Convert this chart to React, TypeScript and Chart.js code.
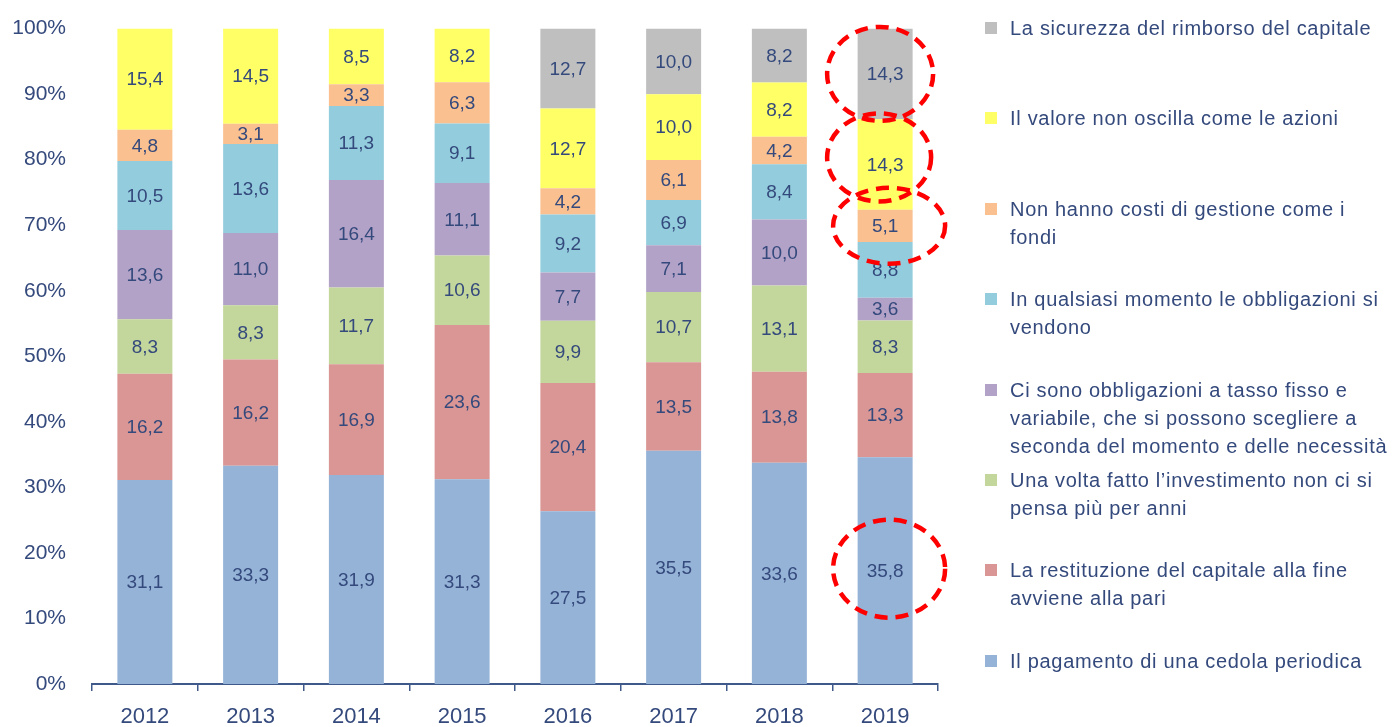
import React, { useEffect, useRef } from "react";
import { Chart, registerables } from "chart.js";

Chart.register(...registerables);

// ---------- DATA ----------
const years = ["2012", "2013", "2014", "2015", "2016", "2017", "2018", "2019"];

const cedola = [31.1, 33.3, 31.9, 31.3, 27.5, 35.5, 33.6, 35.8];
const restituzione = [16.2, 16.2, 16.9, 23.6, 20.4, 13.5, 13.8, 13.3];
const unaVolta = [8.3, 8.3, 11.7, 10.6, 9.9, 10.7, 13.1, 8.3];
const ciSono = [13.6, 11.0, 16.4, 11.1, 7.7, 7.1, 10.0, 3.6];
const qualsiasi = [10.5, 13.6, 11.3, 9.1, 9.2, 6.9, 8.4, 8.8];
const nonHanno = [4.8, 3.1, 3.3, 6.3, 4.2, 6.1, 4.2, 5.1];
const valore = [15.4, 14.5, 8.5, 8.2, 12.7, 10.0, 8.2, 14.3];
const sicurezza = [null, null, null, null, 12.7, 10.0, 8.2, 14.3];

const seriesNames = [
  "Il pagamento di una cedola periodica",
  "La restituzione del capitale alla fine\navviene alla pari",
  "Una volta fatto l\u2019investimento non ci si\npensa più per anni",
  "Ci sono obbligazioni a tasso fisso e\nvariabile, che si possono scegliere a\nseconda del momento e delle necessità",
  "In qualsiasi momento le obbligazioni si\nvendono",
  "Non hanno costi di gestione come i\nfondi",
  "Il valore non oscilla come le azioni",
  "La sicurezza del rimborso del capitale",
];

const yTickValues = [0, 10, 20, 30, 40, 50, 60, 70, 80, 90, 100];

// highlighted segments: [series index, year index]
const highlighted: [number, number][] = [
  [7, 7],
  [6, 7],
  [5, 7],
  [0, 7],
];

// ---------- STYLE ----------
const colors = [
  "#95B3D7",
  "#D99694",
  "#C3D69B",
  "#B3A2C7",
  "#93CDDD",
  "#FAC090",
  "#FFFF66",
  "#BFBFBF",
];
const TEXT = "#34497C";
const FONT = "'Liberation Sans', Arial, sans-serif";
const ellipseStyle = [
  { rx: 53, ry: 47, dx: -5, dy: 0 },
  { rx: 52, ry: 44, dx: -6, dy: -7 },
  { rx: 56, ry: 38, dx: 4, dy: 0 },
  { rx: 56, ry: 49, dx: 4, dy: -2 },
];

const seriesValues = [cedola, restituzione, unaVolta, ciSono, qualsiasi, nonHanno, valore, sicurezza];

const fmt = (v: number) => v.toFixed(1).replace(".", ",");

const labelPlugin = {
  id: "segLabels",
  afterDatasetsDraw(chart: any) {
    const ctx = chart.ctx;
    ctx.save();
    ctx.font = `19px ${FONT}`;
    ctx.fillStyle = TEXT;
    ctx.textAlign = "center";
    ctx.textBaseline = "middle";
    chart.data.datasets.forEach((ds: any, di: number) => {
      const meta = chart.getDatasetMeta(di);
      meta.data.forEach((el: any, i: number) => {
        const raw = seriesValues[di][i];
        if (raw == null) return;
        const { x, y, base } = el.getProps(["x", "y", "base"], true);
        ctx.fillText(fmt(raw), x, (y + base) / 2 + 1);
      });
    });
    ctx.restore();
  },
};

const ellipsePlugin = {
  id: "ellipses",
  afterDatasetsDraw(chart: any) {
    const ctx = chart.ctx;
    ctx.save();
    ctx.strokeStyle = "#FF0000";
    ctx.lineWidth = 4.5;
    ctx.setLineDash([13, 8]);
    highlighted.forEach(([di, i], k) => {
      const el = chart.getDatasetMeta(di).data[i];
      if (!el) return;
      const { x, y, base } = el.getProps(["x", "y", "base"], true);
      const st = ellipseStyle[k];
      ctx.beginPath();
      ctx.ellipse(x + st.dx, (y + base) / 2 + st.dy, st.rx, st.ry, 0, 0, Math.PI * 2);
      ctx.stroke();
    });
    ctx.restore();
  },
};

export default function App() {
  const ref = useRef<HTMLCanvasElement>(null);

  useEffect(() => {
    const sums = years.map((_, i) =>
      seriesValues.reduce((s, arr) => s + (arr[i] ?? 0), 0)
    );
    const chart = new Chart(ref.current as HTMLCanvasElement, {
      type: "bar",
      data: {
        labels: years,
        datasets: seriesValues.map((arr, di) => ({
          label: seriesNames[di].replace(/\n/g, " "),
          data: arr.map((v, i) => (v == null ? null : (v / sums[i]) * 100)),
          backgroundColor: colors[di],
          borderWidth: 0,
          barPercentage: 0.52,
          categoryPercentage: 1,
        })),
      },
      options: {
        animation: false,
        responsive: false,
        layout: { padding: { left: 0, right: 457, top: 18, bottom: 0 } },
        plugins: {
          legend: { display: false },
          tooltip: { enabled: false },
          title: { display: false },
        },
        scales: {
          x: {
            stacked: true,
            offset: true,
            border: { display: true, color: "#3F5A8A", width: 2 },
            grid: {
              display: true,
              offset: true,
              drawOnChartArea: false,
              drawTicks: true,
              tickLength: 7,
              color: "#3F5A8A",
              lineWidth: 1.5,
            },
            ticks: {
              color: TEXT,
              font: { family: FONT, size: 22 },
              padding: 13,
              maxRotation: 0,
            },
            afterFit(scale: any) {
              scale.height = 43;
            },
          },
          y: {
            stacked: true,
            min: 0,
            max: 100,
            border: { display: false },
            grid: { display: false, drawTicks: false },
            afterBuildTicks(scale: any) {
              scale.ticks = yTickValues.map((v) => ({ value: v }));
            },
            ticks: {
              color: TEXT,
              font: { family: FONT, size: 21 },
              padding: 26,
              callback: (v: any) => `${v}%`,
            },
            afterFit(scale: any) {
              scale.width = 92;
            },
          },
        },
      },
      plugins: [labelPlugin, ellipsePlugin],
    });
    return () => chart.destroy();
  }, []);

  const legendOrder = seriesNames.map((n, i) => ({ n, i })).reverse();

  return (
    <div
      style={{
        position: "fixed",
        left: 0,
        top: 0,
        width: 1395,
        height: 727,
        background: "#FFFFFF",
        overflow: "hidden",
      }}
    >
      <canvas ref={ref} width={1395} height={737} style={{ position: "absolute", left: 0, top: -10 }} />
      {legendOrder.map((e, k) => (
        <div
          key={e.i}
          style={{
            position: "absolute",
            left: 985,
            top: 14 + k * 90.4,
            fontFamily: FONT,
            fontSize: 20,
            letterSpacing: "0.7px",
            lineHeight: "28px",
            color: TEXT,
            whiteSpace: "pre",
          }}
        >
          <span
            style={{
              position: "absolute",
              left: 0,
              top: 8,
              width: 12,
              height: 12,
              background: colors[e.i],
            }}
          />
          <div style={{ marginLeft: 25 }}>{e.n}</div>
        </div>
      ))}
    </div>
  );
}
